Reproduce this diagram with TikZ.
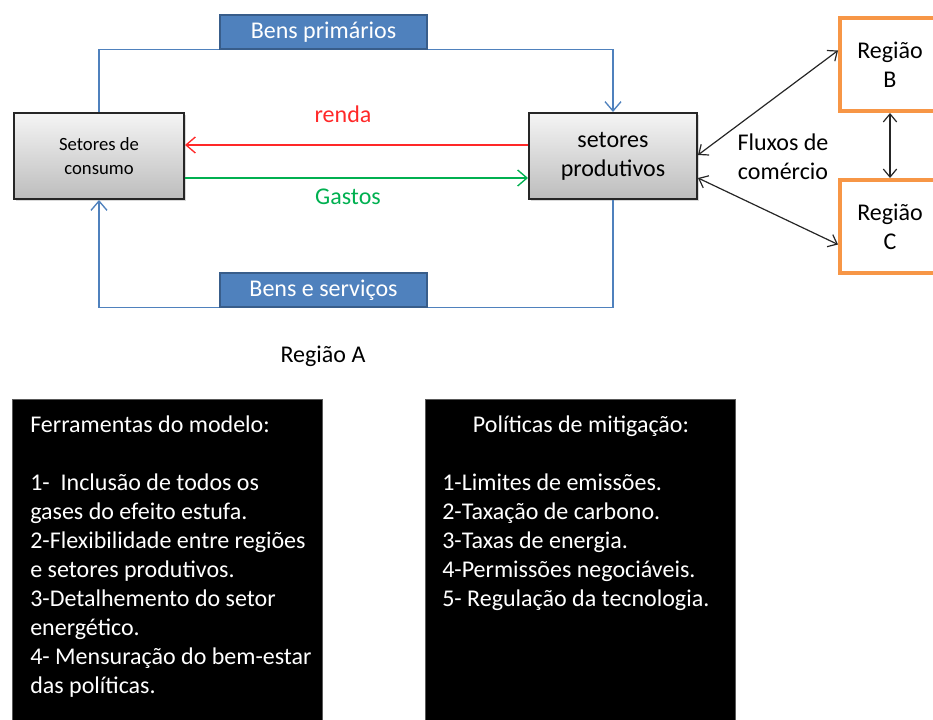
\documentclass[tikz,border=0pt]{standalone}
\usepackage{fontspec}
\setmainfont{Carlito}
\usetikzlibrary{arrows.meta,calc,positioning,shadows}

\definecolor{bensblue}{RGB}{79,129,189}
\definecolor{bensrim}{RGB}{56,93,138}
\definecolor{regorange}{RGB}{247,150,70}
\definecolor{gastosgreen}{RGB}{0,176,80}
\definecolor{rendared}{RGB}{255,40,40}

\tikzset{
  bigfont/.style={font=\fontsize{18}{21.75}\selectfont},
  setorbox/.style={draw=black!85, line width=1.5pt, top color=black!4, bottom color=black!26,
    align=center, inner sep=0pt, drop shadow={opacity=0.3,shadow xshift=1.5pt,shadow yshift=-1.5pt}},
  bensbox/.style={bigfont, draw=bensrim, fill=bensblue, line width=1.8pt, text=white,
    minimum width=155pt, minimum height=25.5pt, inner sep=0pt},
  regbox/.style={bigfont, draw=regorange, line width=3pt, minimum width=75pt,
    minimum height=69.75pt, align=center, inner sep=0pt},
  listbox/.style={fill=black, draw=black!65, line width=0.75pt, minimum width=232.5pt,
    minimum height=255pt, inner sep=0pt},
  listtext/.style={bigfont, text=white, align=left, inner sep=0pt},
  flow/.style={-{Straight Barb[length=7pt,width=12pt]}, line width=1pt},
  tradeflow/.style={{Straight Barb[length=6pt,width=10pt]}-{Straight Barb[length=6pt,width=10pt]},
    line width=0.9pt, draw=black!85},
}

\begin{document}
\begin{tikzpicture}[x=0.75pt,y=0.75pt,yscale=-1,xscale=1]
\useasboundingbox (0,0) rectangle (933,720);
\clip (0,0) rectangle (933,720);

%Shape: sector boxes
\node[setorbox, minimum width=127.5pt, minimum height=64.5pt, font=\fontsize{14}{18}\selectfont] (consumo) at (99,156) {Setores de\\consumo};
\node[setorbox, bigfont, minimum width=126pt, minimum height=64.5pt] (produtivos) at (613,156) {setores\\produtivos};

%Shape: flow labels
\node[bensbox] (primarios) at (323.5,32) {Bens primários};
\node[bensbox] (servicos) at (323.5,290) {Bens e serviços};

%Shape: other regions
\node[regbox] (regiaoB) at (890,64.5) {Região\\B};
\node[regbox] (regiaoC) at (890,226.5) {Região\\C};

%Straight Lines: blue loop
\draw[draw=bensblue, line width=1pt] (consumo.north) |- ($(primarios.south west)+(0,-1)$);
\draw[flow, draw=bensblue] ($(primarios.south east)+(0,-1)$) -| (produtivos.north);
\draw[draw=bensblue, line width=1pt] (produtivos.south) |- ($(servicos.south east)+(0,-1)$);
\draw[flow, draw=bensblue] ($(servicos.south west)+(0,-1)$) -| (consumo.south);

%Straight Lines: renda and gastos
\draw[flow, draw=rendared] ($(produtivos.west)+(0,-11)$) -- ($(consumo.east)+(0,-11)$);
\draw[flow, draw=gastosgreen] ($(consumo.east)+(0,22)$) -- ($(produtivos.west)+(0,22)$);

%Straight Lines: trade
\draw[tradeflow] ($(produtivos.east)+(0,-1)$) -- ($(regiaoB.west)+(0,-14)$);
\draw[tradeflow] ($(produtivos.east)+(0,22)$) -- ($(regiaoC.west)+(0,18)$);
\draw[tradeflow] (regiaoB.south) -- (regiaoC.north);

% Text Node
\node[bigfont, text=rendared] (renda) at (343,114) {renda};
% Text Node
\node[bigfont, text=gastosgreen] (gastos) at (348,197) {Gastos};
% Text Node
\node[bigfont, align=center, inner sep=0pt] (fluxos) at (783,157) {Fluxos de\\comércio};
% Text Node
\node[bigfont] (regiaoA) at (323,356) {Região A};

%Shape: black boxes
\node[listbox] (ferramentas) at (167,570) {};
\node[listbox] (politicas) at (580,570) {};

% Text Node
\node[listtext, anchor=north west] (ferrtext) at (30,416) {Ferramentas do modelo:\\[21.75pt]
1-~~Inclusão de todos os\\
gases do efeito estufa.\\
2-Flexibilidade entre regiões\\
e setores produtivos.\\
3-Detalhemento do setor\\
energético.\\
4- Mensuração do bem-estar\\
das políticas.};
% Text Node
\node[listtext, anchor=north] (polititle) at (581,416) {Políticas de mitigação:};
% Text Node
\node[listtext, anchor=north west] (polilist) at (442,474) {1-Limites de emissões.\\
2-Taxação de carbono.\\
3-Taxas de energia.\\
4-Permissões negociáveis.\\
5- Regulação da tecnologia.};

\end{tikzpicture}
\end{document}
